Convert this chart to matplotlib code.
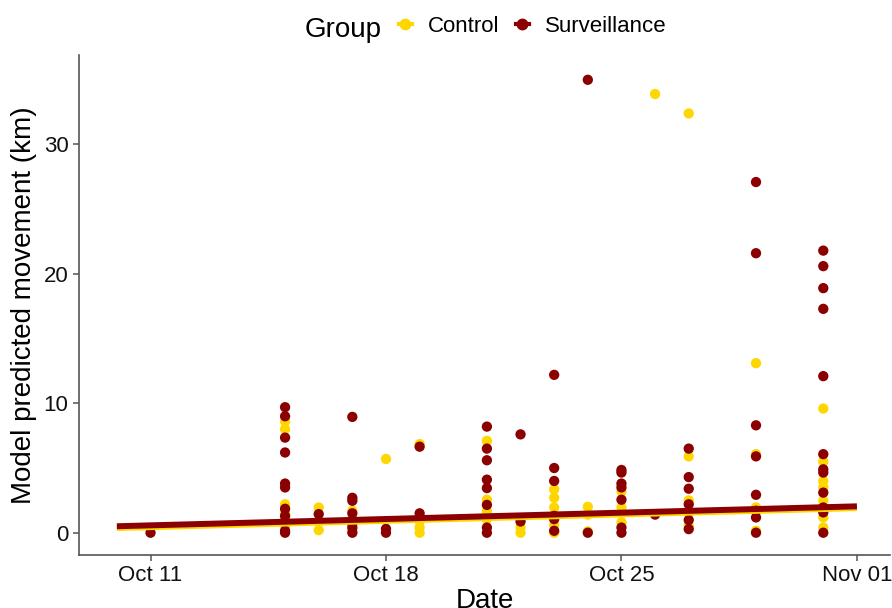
import numpy as np
import matplotlib
matplotlib.use("Agg")
import matplotlib.pyplot as plt
import matplotlib.dates as mdates
from matplotlib.lines import Line2D

plt.rcParams['font.family'] = ['Liberation Sans', 'DejaVu Sans']

# Colours
col_control = '#FFD700'
col_surv = '#8B0000'

# Control group points (date, movement km)
control_dates = (['2023-10-15'] * 7 + ['2023-10-16'] * 2 + ['2023-10-17'] * 3 +
                 ['2023-10-18'] + ['2023-10-19'] * 4 + ['2023-10-21'] * 4 +
                 ['2023-10-22'] * 2 + ['2023-10-23'] * 5 + ['2023-10-24'] * 3 +
                 ['2023-10-25'] * 3 + ['2023-10-26'] + ['2023-10-27'] * 5 +
                 ['2023-10-29'] * 4 + ['2023-10-31'] * 7)
control_vals = [8.6, 8.0, 2.2, 1.5, 1.2, 0.55, 0.9,
                1.95, 0.2,
                1.7, 1.1, 0.2,
                5.7,
                6.85, 0.9, 0.4, 0.0,
                7.1, 2.55, 1.65, 1.05,
                0.4, 0.0,
                3.35, 2.7, 1.95, 0.6, 0.0,
                2.0, 1.4, 0.1,
                3.2, 1.95, 0.8,
                33.9,
                32.4, 5.9, 2.5, 1.57, 0.54,
                13.1, 6.07, 1.95, 0.15,
                9.6, 5.5, 4.0, 3.5, 2.47, 1.18, 0.4]

# Surveillance group points
surv_dates = (['2023-10-11'] + ['2023-10-15'] * 10 + ['2023-10-16'] +
              ['2023-10-17'] * 7 + ['2023-10-18'] * 2 + ['2023-10-19'] * 2 +
              ['2023-10-21'] * 8 + ['2023-10-22'] * 2 + ['2023-10-23'] * 6 +
              ['2023-10-24'] * 2 + ['2023-10-25'] * 7 + ['2023-10-26'] +
              ['2023-10-27'] * 6 + ['2023-10-29'] * 8 + ['2023-10-31'] * 12)
surv_vals = [0.0,
             9.7, 9.0, 7.35, 6.2, 3.8, 3.5, 1.85, 1.3, 0.15, 0.0,
             1.44,
             8.95, 2.7, 2.47, 1.5, 0.7, 0.4, 0.0,
             0.3, 0.0,
             6.65, 1.5,
             8.2, 6.5, 5.6, 4.1, 3.45, 2.15, 0.4, 0.0,
             7.6, 0.87,
             12.2, 5.0, 4.0, 1.3, 1.05, 0.15,
             35.0, 0.0,
             4.85, 4.65, 3.8, 3.5, 2.55, 0.4, 0.0,
             1.4,
             6.5, 4.3, 3.4, 2.2, 0.98, 0.28,
             27.1, 21.6, 8.3, 5.9, 2.93, 1.7, 1.18, 0.0,
             21.8, 20.6, 18.9, 17.3, 12.1, 6.07, 4.9, 4.65, 3.1, 1.95, 1.57, 0.0]

# Fitted trend lines (start/end)
trend_dates = ['2023-10-10', '2023-11-01']
control_trend = [0.36, 1.9]
surv_trend = [0.5, 2.04]

cd = mdates.datestr2num(control_dates)
sd = mdates.datestr2num(surv_dates)
td = mdates.datestr2num(trend_dates)

fig = plt.figure(figsize=(8.92, 6.08), dpi=100)
ax = fig.add_axes([0.0886, 0.0872, 0.909, 0.822])

ax.scatter(cd, control_vals, s=55, color=col_control, edgecolors='none', zorder=2)
ax.scatter(sd, surv_vals, s=55, color=col_surv, edgecolors='none', zorder=2)
ax.plot(td, control_trend, color=col_control, lw=4.3, solid_capstyle='butt', zorder=3)
ax.plot(td, surv_trend, color=col_surv, lw=4.3, solid_capstyle='butt', zorder=3)

ax.set_xlim(mdates.datestr2num('2023-10-08 21:00'), mdates.datestr2num('2023-11-01 23:30'))
ax.set_ylim(-1.72, 36.9)
ax.set_xticks(mdates.datestr2num(['2023-10-11', '2023-10-18', '2023-10-25', '2023-11-01']))
ax.xaxis.set_major_formatter(mdates.DateFormatter('%b %d'))
ax.set_yticks([0, 10, 20, 30])

for s in ['top', 'right']:
    ax.spines[s].set_visible(False)
for s in ['left', 'bottom']:
    ax.spines[s].set_color('#555555')
    ax.spines[s].set_linewidth(1.2)
ax.tick_params(axis='both', colors='#555555', length=4, width=1.1,
               labelsize=16, labelcolor='#111111')

ax.set_xlabel('Date', fontsize=20, labelpad=1)
ax.set_ylabel('Model predicted movement (km)', fontsize=20, labelpad=5)

# Legend on top
fig.text(0.342, 1 - 37 / 608, 'Group', fontsize=20, ha='left', va='baseline')
handles = [Line2D([], [], color=col_control, marker='o', markersize=7.5, lw=3),
           Line2D([], [], color=col_surv, marker='o', markersize=7.5, lw=3)]
fig.legend(handles, ['Control', 'Surveillance'], ncol=2, frameon=False,
           loc='center left', bbox_to_anchor=(0.447, 0.957), fontsize=16,
           borderpad=0, borderaxespad=0,
           handlelength=0.58, handletextpad=0.74, columnspacing=0.74)

fig.savefig('out.png', dpi=100)
